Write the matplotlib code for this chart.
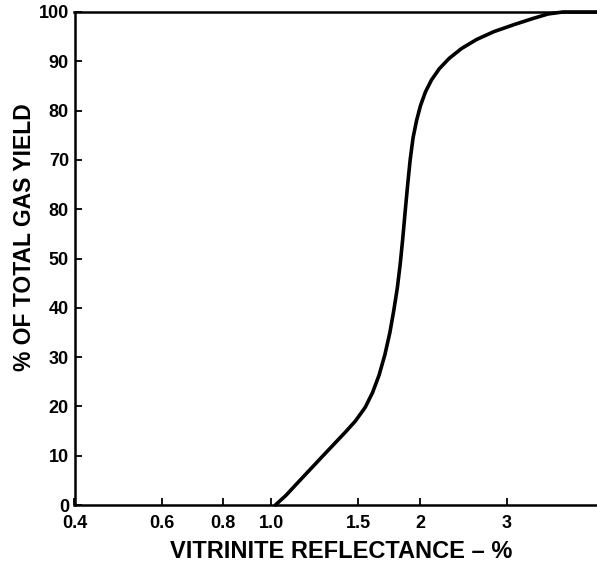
import matplotlib
matplotlib.use("Agg")
import matplotlib.pyplot as plt
from matplotlib.ticker import NullLocator, FixedLocator, FixedFormatter

# Data (vitrinite reflectance %, % of total gas yield)
vitrinite_reflectance = [1.020, 1.072, 1.148, 1.230, 1.318, 1.413, 1.479, 1.549, 1.603, 1.652,
                         1.698, 1.738, 1.770, 1.799, 1.824, 1.845, 1.866, 1.888, 1.910, 1.936,
                         1.968, 2.004, 2.051, 2.109, 2.188, 2.291, 2.427, 2.600, 2.818, 3.090,
                         3.388, 3.631, 3.890, 4.169, 4.56]
gas_yield_pct = [0.0, 2.0, 5.2, 8.4, 11.6, 14.8, 17.0, 19.8, 22.8, 26.3,
                 30.5, 35.0, 39.5, 44.0, 49.0, 54.0, 59.5, 65.0, 70.0, 74.5,
                 78.0, 81.0, 83.8, 86.2, 88.5, 90.6, 92.6, 94.4, 96.0, 97.4,
                 98.7, 99.6, 100.0, 100.0, 100.0]

x_ticks = [0.4, 0.6, 0.8, 1.0, 1.5, 2, 3]
x_tick_labels = ["0.4", "0.6", "0.8", "1.0", "1.5", "2", "3"]
y_ticks = [0, 10, 20, 30, 40, 50, 60, 70, 80, 90, 100]
y_tick_labels = ["0", "10", "20", "30", "40", "50", "80", "70", "80", "90", "100"]

plt.rcParams['font.family'] = ['Liberation Sans', 'DejaVu Sans']
plt.rcParams['font.weight'] = 'bold'

W, H = 597, 565
fig = plt.figure(figsize=(W / 100, H / 100), dpi=100)
left, right, top, bottom = 74.5, 597, 12, 505
ax = fig.add_axes([left / W, 1 - bottom / H, (right - left) / W, (bottom - top) / H])

ax.plot(vitrinite_reflectance, gas_yield_pct, color='black', lw=2.6,
        solid_capstyle='round', solid_joinstyle='round', clip_on=False, zorder=3)

ax.set_xscale('log')
ax.set_xlim(0.4, 4.56)
ax.set_ylim(0, 100)

ax.xaxis.set_major_locator(FixedLocator(x_ticks))
ax.xaxis.set_major_formatter(FixedFormatter(x_tick_labels))
ax.xaxis.set_minor_locator(NullLocator())
ax.yaxis.set_major_locator(FixedLocator(y_ticks))
ax.yaxis.set_major_formatter(FixedFormatter(y_tick_labels))

ax.spines['right'].set_visible(False)
for s in ['left', 'bottom', 'top']:
    ax.spines[s].set_linewidth(1.8)
    ax.spines[s].set_color('black')

ax.tick_params(axis='both', direction='in', length=5, width=1.3, labelsize=13, colors='black')
ax.tick_params(axis='x', pad=7)
ax.tick_params(axis='y', pad=4)
for lab in ax.get_xticklabels() + ax.get_yticklabels():
    lab.set_fontweight('bold')

ax.set_xlabel("VITRINITE REFLECTANCE – %", fontsize=17, fontweight='bold', va='center')
ax.xaxis.set_label_coords((341 - left) / (right - left), -(552 - bottom) / (bottom - top))
ax.set_ylabel("% OF TOTAL GAS YIELD", fontsize=16.5, fontweight='bold', va='center')
ax.yaxis.set_label_coords((25 - left) / (right - left), (bottom - 237) / (bottom - top))

fig.savefig("out.png", dpi=100)
